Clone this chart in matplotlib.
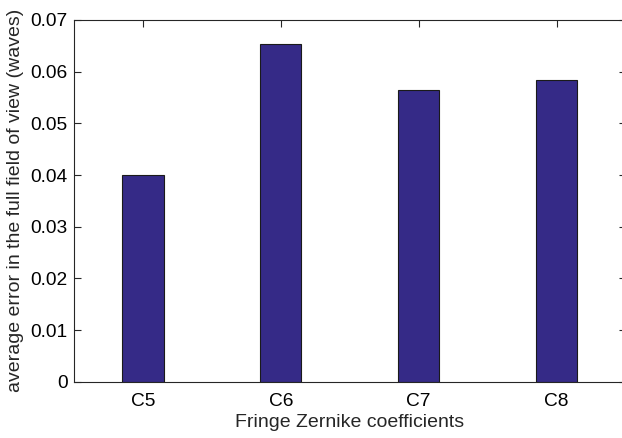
import matplotlib
matplotlib.use("Agg")
import matplotlib.pyplot as plt

# fringe zernike coefficients and their average error
labels = ["C5", "C6", "C7", "C8"]
errors = [0.0400, 0.0653, 0.0565, 0.0584]

plt.rcParams["font.family"] = ["Liberation Sans", "DejaVu Sans"]

fig = plt.figure(figsize=(6.22, 4.38), dpi=100)
ax = fig.add_axes([74 / 622, 1 - 381.7 / 438, 551.5 / 622, 361.7 / 438])

x = list(range(1, len(labels) + 1))
ax.bar(x, errors, width=0.3, color="#352a87", edgecolor="#1a1a1a", linewidth=0.8, zorder=2)

ax.set_xlim(0.5, 4.5)
ax.set_ylim(0, 0.07)
ax.set_xticks(x)
ax.set_xticklabels(labels)
ax.set_yticks([0, 0.01, 0.02, 0.03, 0.04, 0.05, 0.06, 0.07])
ax.set_yticklabels(["0", "0.01", "0.02", "0.03", "0.04", "0.05", "0.06", "0.07"])

for s in ax.spines.values():
    s.set_color("#262626")
    s.set_linewidth(0.8)
ax.tick_params(direction="in", length=5, width=0.8, color="#262626",
               top=True, right=True, labelsize=13.8, pad=4.5)
ax.tick_params(axis="x", pad=8)

ax.set_xlabel("Fringe Zernike coefficients", fontsize=14, color="#262626", labelpad=3)
ax.set_ylabel("average error in the full field of view (waves)", fontsize=14, color="#262626", labelpad=5)

fig.savefig("out.png", dpi=100)
